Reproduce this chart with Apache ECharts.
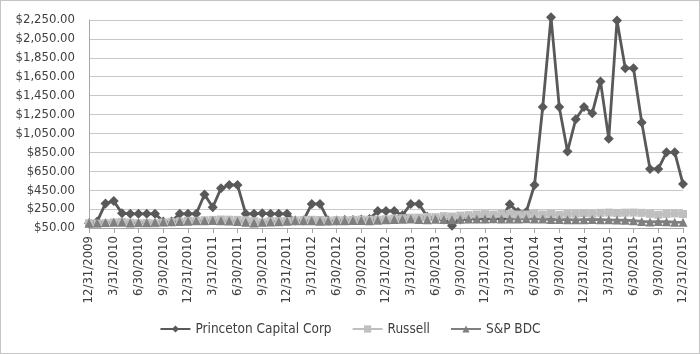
<!DOCTYPE html>
<html>
<head>
<meta charset="utf-8">
<script src="https://cdn.jsdelivr.net/npm/echarts@6/dist/echarts.min.js"></script>
<style>
  html, body { margin: 0; padding: 0; background: #fff; }
  #main { width: 700px; height: 354px; box-sizing: border-box; border: 1px solid #c4c4c4; }
</style>
</head>
<body>
<div id="main"></div>
<script>
// month-end dates, one point per month
var dates = [
  '12/31/2009',
  '1/31/2010','2/28/2010','3/31/2010','4/30/2010','5/31/2010','6/30/2010','7/31/2010','8/31/2010','9/30/2010','10/31/2010','11/30/2010','12/31/2010',
  '1/31/2011','2/28/2011','3/31/2011','4/30/2011','5/31/2011','6/30/2011','7/31/2011','8/31/2011','9/30/2011','10/31/2011','11/30/2011','12/31/2011',
  '1/31/2012','2/29/2012','3/31/2012','4/30/2012','5/31/2012','6/30/2012','7/31/2012','8/31/2012','9/30/2012','10/31/2012','11/30/2012','12/31/2012',
  '1/31/2013','2/28/2013','3/31/2013','4/30/2013','5/31/2013','6/30/2013','7/31/2013','8/31/2013','9/30/2013','10/31/2013','11/30/2013','12/31/2013',
  '1/31/2014','2/28/2014','3/31/2014','4/30/2014','5/31/2014','6/30/2014','7/31/2014','8/31/2014','9/30/2014','10/31/2014','11/30/2014','12/31/2014',
  '1/31/2015','2/28/2015','3/31/2015','4/30/2015','5/31/2015','6/30/2015','7/31/2015','8/31/2015','9/30/2015','10/31/2015','11/30/2015','12/31/2015'
];

var princeton = [
  100,
  120, 310, 335, 205, 200, 200, 200, 200, 120, 120, 200, 200,
  200, 405, 270, 470, 505, 505, 200, 200, 205, 200, 200, 200,
  130, 130, 305, 305, 130, 130, 135, 135, 140, 145, 230, 230,
  230, 185, 305, 305, 170, 150, 140, 75, 140, 150, 150, 150,
  150, 150, 300, 220, 220, 505, 1330, 2280, 1330, 860, 1200, 1330,
  1265, 1600, 995, 2245, 1740, 1740, 1165, 675, 675, 850, 850, 515
];

var russell = [
  100,
  97, 101, 109, 114, 107, 100, 105, 99, 109, 113, 118, 126,
  126, 132, 136, 140, 138, 136, 132, 122, 110, 122, 122, 123,
  130, 133, 137, 135, 128, 133, 131, 135, 139, 137, 138, 142,
  151, 153, 159, 160, 166, 165, 175, 171, 181, 186, 193, 197,
  192, 199, 198, 192, 193, 203, 193, 200, 190, 200, 201, 207,
  200, 210, 213, 209, 212, 213, 210, 200, 190, 199, 204, 198
];

var spbdc = [
  100,
  104, 108, 112, 110, 104, 108, 106, 110, 114, 116, 118, 122,
  126, 128, 130, 128, 124, 120, 110, 104, 112, 114, 116, 122,
  126, 128, 126, 122, 124, 126, 128, 130, 130, 128, 132, 136,
  140, 142, 144, 140, 138, 142, 140, 138, 142, 144, 146, 146,
  148, 146, 144, 146, 148, 146, 144, 140, 140, 138, 136, 138,
  140, 138, 136, 134, 132, 128, 120, 114, 118, 116, 112, 110
];

var chart = echarts.init(document.getElementById('main'));

var fontFam = "'Liberation Sans Narrow', 'DejaVu Sans Condensed', 'Liberation Sans', sans-serif";

var option = {
  animation: false,
  textStyle: { fontFamily: fontFam },
  grid: { left: 88, right: 16, top: 19, bottom: 125 },
  legend: {
    bottom: 12,
    left: 'center',
    itemWidth: 30,
    itemHeight: 9,
    itemGap: 20,
    textStyle: { fontSize: 13.5, color: '#404040', fontFamily: fontFam },
    data: ['Princeton Capital Corp', 'Russell', 'S&P BDC']
  },
  xAxis: {
    type: 'category',
    data: dates,
    boundaryGap: false,
    axisLine: { lineStyle: { color: '#a6a6a6', width: 1 } },
    axisTick: { show: true, interval: 2, length: 5, lineStyle: { color: '#a6a6a6' } },
    axisLabel: { interval: 2, rotate: 90, fontSize: 13, color: '#404040', margin: 8, fontFamily: fontFam }
  },
  yAxis: {
    type: 'value',
    min: 50,
    max: 2250,
    interval: 200,
    axisLine: { show: true, lineStyle: { color: '#a6a6a6' } },
    axisTick: { show: false },
    splitLine: { lineStyle: { color: '#c8c8c8', width: 1 } },
    axisLabel: {
      fontSize: 13,
      color: '#404040',
      margin: 14,
      fontFamily: fontFam,
      formatter: function (v) {
        return '$' + v.toLocaleString('en-US', { minimumFractionDigits: 2, maximumFractionDigits: 2 });
      }
    }
  },
  series: [
    {
      name: 'Princeton Capital Corp',
      type: 'line',
      data: princeton,
      clip: false,
      symbol: 'diamond',
      symbolSize: 10,
      showAllSymbol: true,
      lineStyle: { color: '#595959', width: 2.8 },
      itemStyle: { color: '#595959' }
    },
    {
      name: 'Russell',
      type: 'line',
      data: russell,
      symbol: 'rect',
      symbolSize: 8,
      showAllSymbol: true,
      lineStyle: { color: '#bfbfbf', width: 2.8 },
      itemStyle: { color: '#bfbfbf' }
    },
    {
      name: 'S&P BDC',
      type: 'line',
      data: spbdc,
      symbol: 'triangle',
      symbolSize: 9,
      showAllSymbol: true,
      lineStyle: { color: '#7f7f7f', width: 2.8 },
      itemStyle: { color: '#7f7f7f' }
    }
  ]
};

chart.setOption(option);
</script>
</body>
</html>
